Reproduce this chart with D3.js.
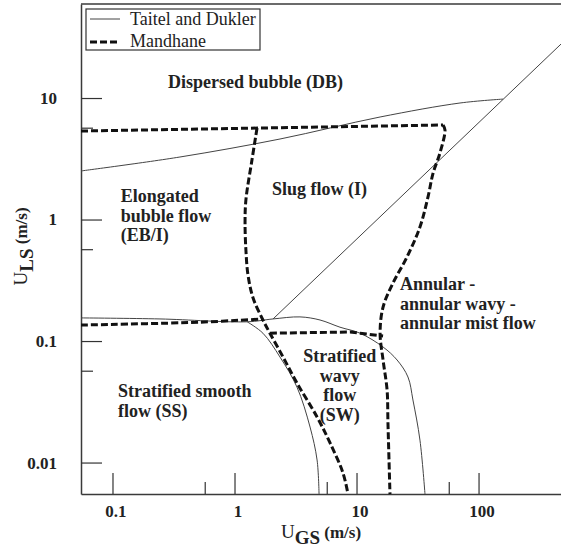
<!DOCTYPE html>
<html lang="en">
<head>
<meta charset="UTF-8" />
<title>Flow pattern map</title>
<style>
  body { margin: 0; background: #fff; }
  svg { display: block; }
  svg text { font-family: "Liberation Serif", "DejaVu Serif", serif; }
  .frame { fill: none; stroke: #3a3a3a; stroke-width: 1.5px; }
  .td-line { fill: none; stroke: #444; stroke-width: 1px; }
  .mand-line { fill: none; stroke: #111; stroke-width: 3px; stroke-dasharray: 7, 3; }
  .axis path { stroke: #3a3a3a; stroke-width: 1.5px; }
  .axis line { stroke: #333; stroke-width: 1.2px; }
  .axis text { font-family: "Liberation Serif", "DejaVu Serif", serif; font-size: 17px; font-weight: bold; fill: #222; }
  .region { font-size: 18px; font-weight: bold; fill: #222; }
  .legend-text { font-size: 18px; fill: #222; }
  .title { fill: #222; }
</style>
</head>
<body>
<script src="https://cdn.jsdelivr.net/npm/d3@7"></script>
<script>
  // axis ticks
  var xTicks = [0.1, 1, 10, 100];
  var xTickLabels = ["0.1", "1", "10", "100"];
  var yTicks = [0.01, 0.1, 1, 10];
  var yTickLabels = ["0.01", "0.1", "1", "10"];
  var xMinor = [0.57, 5.7, 57];
  var yMinor = [0.057, 0.57, 5.7];

  // Taitel and Dukler boundaries [UGS, ULS]
  var tdDispersed = [[0.0552, 2.51], [0.357, 3.27], [2.36, 4.6], [15.6, 6.98], [70.5, 9.1], [159, 9.8]];
  var tdDiagonal = [[2.07, 0.152], [474, 27.8]];
  var tdStratified = [[0.0552, 0.155], [0.245, 0.152], [1.27, 0.144], [2.07, 0.152], [3.44, 0.158],
    [5.02, 0.149], [7.32, 0.130], [10.7, 0.116], [16.5, 0.0893], [21.5, 0.0698], [26.4, 0.0506],
    [29.0, 0.0327], [33.1, 0.0153], [36.4, 0.0055]];
  var tdSmoothWavy = [[1.27, 0.144], [1.71, 0.116], [2.36, 0.0738], [3.25, 0.0418], [4.16, 0.0196],
    [4.75, 0.0105], [4.93, 0.0055]];

  // Mandhane boundaries [UGS, ULS]
  var mTop = [[0.0552, 5.35], [1.62, 5.66], [51.2, 6.0]];
  var mAnnular = [[51.2, 6.0], [53.1, 5.45], [48.3, 3.53], [42.4, 2.41], [38.5, 1.53], [33.1, 0.868],
    [25.9, 0.491], [19.9, 0.300], [16.5, 0.1905], [15.6, 0.116], [16.5, 0.0698], [17.8, 0.0395],
    [18.1, 0.0211], [18.8, 0.0055]];
  var mSlug = [[1.53, 5.66], [1.39, 3.09], [1.24, 1.45], [1.22, 0.936], [1.24, 0.561], [1.29, 0.349],
    [1.42, 0.226], [1.71, 0.149], [1.95, 0.116], [2.50, 0.0738], [3.25, 0.0451], [4.75, 0.0237],
    [6.07, 0.0145], [7.75, 0.0082], [8.51, 0.0055]];
  var mStratLeft = [[0.0552, 0.1354], [0.521, 0.143], [1.71, 0.152]];
  var mStratWavy = [[1.95, 0.116], [8.85, 0.1186], [16.5, 0.110]];

  // region names, anchored in data units
  var regions = [
    { lines: ["Dispersed bubble (DB)"], ugs: 0.285, uls: 12.1, anchor: "start" },
    { lines: ["Elongated", "bubble flow", "(EB/I)"], ugs: 0.117, uls: 1.39, anchor: "start" },
    { lines: ["Slug flow (I)"], ugs: 2.03, uls: 1.59, anchor: "start" },
    { lines: ["Annular -", "annular wavy -", "annular mist flow"], ugs: 22.7, uls: 0.263, anchor: "start" },
    { lines: ["Stratified", "wavy", "flow", "(SW)"], ugs: 7.3, uls: 0.0671, anchor: "middle" },
    { lines: ["Stratified smooth", "flow (SS)"], ugs: 0.111, uls: 0.0346, anchor: "start" }
  ];

  var w = 561;
  var h = 554;
  var margin = { top: 4, right: 0, bottom: 60, left: 81 };

  var svg = d3.select("body").append("svg")
    .attr("width", w)
    .attr("height", h);

  var xScale = d3.scaleLog()
    .domain([0.0552, 474])
    .range([margin.left, w - margin.right]);

  var yScale = d3.scaleLog()
    .domain([0.00551, 59.4])
    .range([h - margin.bottom, margin.top]);

  var straight = d3.line()
    .x(function(d) { return xScale(d[0]); })
    .y(function(d) { return yScale(d[1]); });

  var smooth = d3.line()
    .x(function(d) { return xScale(d[0]); })
    .y(function(d) { return yScale(d[1]); })
    .curve(d3.curveCatmullRom.alpha(0.5));

  // top border
  svg.append("line")
    .attr("class", "frame")
    .attr("x1", margin.left)
    .attr("x2", w)
    .attr("y1", margin.top)
    .attr("y2", margin.top);

  // axes, ticks point inwards
  var xAxis = d3.axisBottom(xScale)
    .tickValues(xTicks)
    .tickFormat(function(d, i) { return xTickLabels[i]; })
    .tickSizeInner(-21)
    .tickSizeOuter(0)
    .tickPadding(11);

  var yAxis = d3.axisLeft(yScale)
    .tickValues(yTicks)
    .tickFormat(function(d, i) { return yTickLabels[i]; })
    .tickSizeInner(-21)
    .tickSizeOuter(0)
    .tickPadding(24);

  var gx = svg.append("g")
    .attr("class", "axis")
    .attr("transform", "translate(0," + (h - margin.bottom) + ")")
    .call(xAxis);
  gx.selectAll("text").attr("dx", 3);

  svg.append("g")
    .attr("class", "axis")
    .attr("transform", "translate(" + margin.left + ",0)")
    .call(yAxis);

  svg.append("g")
    .attr("class", "axis")
    .attr("transform", "translate(0," + (h - margin.bottom) + ")")
    .call(d3.axisBottom(xScale).tickValues(xMinor).tickFormat("").tickSizeInner(-12).tickSizeOuter(0))
    .select(".domain").remove();

  svg.append("g")
    .attr("class", "axis")
    .attr("transform", "translate(" + margin.left + ",0)")
    .call(d3.axisLeft(yScale).tickValues(yMinor).tickFormat("").tickSizeInner(-12).tickSizeOuter(0))
    .select(".domain").remove();

  // Taitel and Dukler
  svg.append("path").datum(tdDispersed).attr("class", "td-line").attr("d", smooth);
  svg.append("path").datum(tdDiagonal).attr("class", "td-line").attr("d", straight);
  svg.append("path").datum(tdStratified).attr("class", "td-line").attr("d", smooth);
  svg.append("path").datum(tdSmoothWavy).attr("class", "td-line").attr("d", smooth);

  // Mandhane
  svg.append("path").datum(mTop).attr("class", "mand-line").attr("d", straight);
  svg.append("path").datum(mAnnular).attr("class", "mand-line").attr("d", smooth);
  svg.append("path").datum(mSlug).attr("class", "mand-line").attr("d", smooth);
  svg.append("path").datum(mStratLeft).attr("class", "mand-line").attr("d", smooth);
  svg.append("path").datum(mStratWavy).attr("class", "mand-line").attr("d", straight);

  // region names
  regions.forEach(function(r) {
    var t = svg.append("text")
      .attr("class", "region")
      .attr("text-anchor", r.anchor)
      .attr("x", xScale(r.ugs))
      .attr("y", yScale(r.uls));
    r.lines.forEach(function(line, i) {
      t.append("tspan")
        .attr("x", xScale(r.ugs))
        .attr("dy", i == 0 ? 0 : 19.5)
        .text(line);
    });
  });

  // legend
  var legend = svg.append("g");
  legend.append("rect")
    .attr("x", 86).attr("y", 9)
    .attr("width", 174).attr("height", 41)
    .attr("fill", "none").attr("stroke", "#333").attr("stroke-width", 1.2);
  legend.append("line")
    .attr("class", "td-line")
    .attr("x1", 90).attr("x2", 120).attr("y1", 19).attr("y2", 19);
  legend.append("line")
    .attr("class", "mand-line")
    .attr("x1", 90).attr("x2", 120).attr("y1", 42).attr("y2", 42);
  legend.append("text").attr("class", "legend-text").attr("x", 130).attr("y", 25).text("Taitel and Dukler");
  legend.append("text").attr("class", "legend-text").attr("x", 130).attr("y", 47).text("Mandhane");

  // axis titles
  var xt = svg.append("text")
    .attr("class", "title")
    .attr("text-anchor", "middle")
    .attr("x", (margin.left + w) / 2)
    .attr("y", 538);
  xt.append("tspan").attr("font-size", 19).text("U");
  xt.append("tspan").attr("font-size", 19).attr("font-weight", "bold").attr("dy", 6).text("GS");
  xt.append("tspan").attr("font-size", 17).attr("font-weight", "bold").attr("dy", -6).text(" (m/s)");

  var yt = svg.append("text")
    .attr("class", "title")
    .attr("text-anchor", "middle")
    .attr("transform", "translate(27," + yScale(0.6) + ") rotate(-90)");
  yt.append("tspan").attr("font-size", 19).text("U");
  yt.append("tspan").attr("font-size", 19).attr("font-weight", "bold").attr("dy", 6).text("LS");
  yt.append("tspan").attr("font-size", 17).attr("font-weight", "bold").attr("dy", -6).text(" (m/s)");
</script>
</body>
</html>
